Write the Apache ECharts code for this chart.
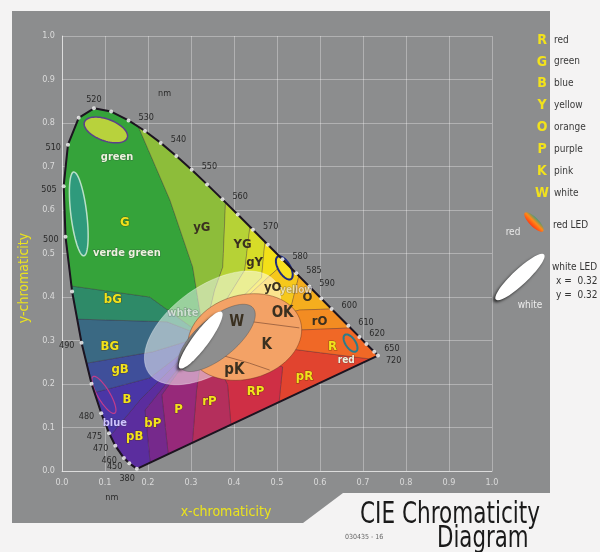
<!DOCTYPE html>
<html>
<head>
<meta charset="utf-8">
<script src="https://cdn.jsdelivr.net/npm/echarts@6/dist/echarts.min.js"></script>
<style>
html,body{margin:0;padding:0;background:#f4f3f3;}
#chart{width:600px;height:552px;}
</style>
</head>
<body>
<div id="chart"></div>
<script>
// spectral locus, CIE 1931 (nm, x, y)
var wavelengths = [380, 450, 460, 470, 475, 480, 485, 490, 495, 500, 505, 510, 515, 520, 525, 530, 535, 540, 545, 550, 555, 560, 565, 570, 575, 580, 585, 590, 595, 600, 610, 620, 630, 650, 720];
var locusX = [0.1741, 0.1566, 0.1440, 0.1241, 0.1096, 0.0913, 0.0687, 0.0454, 0.0235, 0.0082, 0.0039, 0.0139, 0.0389, 0.0743, 0.1142, 0.1547, 0.1929, 0.2296, 0.2658, 0.3016, 0.3373, 0.3731, 0.4087, 0.4441, 0.4788, 0.5125, 0.5448, 0.5752, 0.6029, 0.6270, 0.6658, 0.6915, 0.7079, 0.7260, 0.7347];
var locusY = [0.0050, 0.0177, 0.0297, 0.0578, 0.0868, 0.1327, 0.2007, 0.2950, 0.4127, 0.5384, 0.6548, 0.7502, 0.8120, 0.8338, 0.8262, 0.8059, 0.7816, 0.7543, 0.7243, 0.6923, 0.6589, 0.6245, 0.5896, 0.5547, 0.5202, 0.4866, 0.4544, 0.4242, 0.3965, 0.3725, 0.3340, 0.3083, 0.2920, 0.2740, 0.2653];
var labelWaves = [380, 450, 460, 470, 475, 480, 490, 500, 505, 510, 520, 530, 540, 550, 560, 570, 580, 585, 590, 600, 610, 620, 650, 720];

// colour-name regions (clockwise), each one lies between two boundaries
var regionNames = ['pR', 'RP', 'rP', 'P', 'bP', 'pB', 'B', 'gB', 'BG', 'bG', 'G', 'yG', 'YG', 'gY', 'Y', 'yO', 'O', 'rO', 'R'];
var hub = [0.33, 0.31];
// boundary ends: t = share of the purple line from 380, lam = point of the locus
var boundaries = [
  { t: 0.97, pts: [[0.552, 0.278]] },
  { t: 0.59, pts: [[0.513, 0.239]] },
  { t: 0.39, pts: [[0.385, 0.198]] },
  { t: 0.23, pts: [[0.313, 0.186]] },
  { t: 0.13, pts: [[0.232, 0.175]] },
  { t: 0.055, pts: [[0.193, 0.140]] },
  { lam: 474, pts: [[0.181, 0.163]] },
  { lam: 483.5, pts: [[0.204, 0.214]] },
  { lam: 487.5, pts: [[0.211, 0.274]] },
  { lam: 492.3, pts: [[0.244, 0.343]] },
  { lam: 495.5, pts: [[0.204, 0.400]] },
  { lam: 533, pts: [[0.304, 0.469], [0.251, 0.623]] },
  { lam: 561, pts: [[0.355, 0.416], [0.374, 0.469]] },
  { lam: 569, pts: [[0.425, 0.462]] },
  { lam: 574, pts: [[0.464, 0.444]] },
  { lam: 581, pts: [[0.478, 0.444]] },
  { lam: 586, pts: [[0.534, 0.382]] },
  { lam: 600, pts: [[0.552, 0.370]] },
  { lam: 612, pts: [[0.552, 0.324]] }
];

// ellipses (centre, half axes, angle in degrees)
var ellipseNames = ['outer', 'salmon', 'gray', 'whiteLED', 'green', 'verde', 'blue', 'yellow', 'red'];
var ellipseCX = [0.350, 0.425, 0.360, 0.3225, 0.102, 0.039, 0.0975, 0.517, 0.671];
var ellipseCY = [0.329, 0.308, 0.306, 0.301, 0.784, 0.591, 0.175, 0.467, 0.294];
var ellipseA = [0.181, 0.1346, 0.109, 0.081, 0.053, 0.097, 0.049, 0.030, 0.023];
var ellipseB = [0.097, 0.0966, 0.046, 0.0185, 0.025, 0.0185, 0.014, 0.014, 0.0115];
var ellipseAngle = [35, 15, 39, 53, -20, 97, 121, 121, 125];

// lines inside the pink area
var divOKx = [0.443, 0.552], divOKy = [0.343, 0.329];
var divKx = [0.343, 0.436, 0.483], divKy = [0.274, 0.248, 0.232];

// labels
var labelText = ['G', 'yG', 'YG', 'gY', 'yO', 'O', 'rO', 'R', 'pR', 'RP', 'rP', 'P', 'bP', 'pB', 'B', 'gB', 'BG', 'bG', 'W', 'OK', 'K', 'pK'];
var labelX = [0.146, 0.325, 0.420, 0.448, 0.490, 0.571, 0.599, 0.629, 0.564, 0.450, 0.343, 0.271, 0.211, 0.169, 0.151, 0.135, 0.111, 0.118, 0.406, 0.513, 0.476, 0.401];
var labelY = [0.572, 0.559, 0.520, 0.480, 0.421, 0.398, 0.343, 0.285, 0.216, 0.182, 0.159, 0.140, 0.110, 0.078, 0.163, 0.232, 0.285, 0.393, 0.343, 0.363, 0.290, 0.232];
var noteText = ['green', 'verde green', 'blue', 'white', 'red', 'yellow'];
var noteX = [0.128, 0.151, 0.123, 0.281, 0.661, 0.545];
var noteY = [0.722, 0.501, 0.110, 0.363, 0.255, 0.416];

var legendLetters = ['R', 'G', 'B', 'Y', 'O', 'P', 'K', 'W'];
var legendNames = ['red', 'green', 'blue', 'yellow', 'orange', 'purple', 'pink', 'white'];

var FONT = "'Liberation Sans Narrow', 'DejaVu Sans Condensed', 'Liberation Sans', sans-serif";

var regionColors = {
  pR: '#e1442f', RP: '#cf2f45', rP: '#b42f5c', P: '#97297a', bP: '#76298c', pB: '#5b2d9e',
  B: '#4a36a6', gB: '#3f4f9a', BG: '#3a6983', bG: '#2e8a68', G: '#35a33a', yG: '#8dbd3a',
  YG: '#b6d236', gY: '#d7dc28', Y: '#f3e018', yO: '#f6c81c', O: '#f5ae1e', rO: '#f38c22', R: '#f06826'
};
var ellipseStyles = {
  outer: { fill: 'rgba(255,255,255,0.5)', stroke: 'rgba(255,255,255,0.35)', lineWidth: 1 },
  salmon: { fill: '#f3a266', stroke: 'rgba(90,40,20,0.5)', lineWidth: 0.8 },
  gray: { fill: '#8e8e8e', stroke: 'rgba(60,60,60,0.4)', lineWidth: 0.8 },
  whiteLED: { fill: '#ffffff', shadowBlur: 3, shadowColor: 'rgba(0,0,0,0.7)', shadowOffsetX: -2, shadowOffsetY: 2 },
  green: { fill: '#b8d23c', stroke: '#5b3f8c', lineWidth: 1.5 },
  verde: { fill: '#2f9a7c', stroke: '#b9e0c8', lineWidth: 1.5 },
  blue: { fill: 'rgba(0,0,0,0)', stroke: '#c03c8c', lineWidth: 1.2 },
  yellow: { fill: '#f8e020', stroke: '#1c2a80', lineWidth: 2 },
  red: { fill: 'rgba(0,0,0,0)', stroke: '#2a7c8c', lineWidth: 2 }
};
var darkLabels = ['yG', 'YG', 'gY', 'yO', 'O', 'rO', 'W', 'OK', 'K', 'pK'];

function locusAt(lam) {
  for (var i = 0; i < wavelengths.length - 1; i++) {
    if (lam >= wavelengths[i] && lam <= wavelengths[i + 1]) {
      var f = (lam - wavelengths[i]) / (wavelengths[i + 1] - wavelengths[i]);
      return [locusX[i] + f * (locusX[i + 1] - locusX[i]), locusY[i] + f * (locusY[i + 1] - locusY[i])];
    }
  }
  return [locusX[locusX.length - 1], locusY[locusY.length - 1]];
}
// position round the outline: 0..1 purple line (from 720 end), 1..2 locus (380 -> 720)
function perimPos(b) { return b.t !== undefined ? 1 - b.t : 1 + (b.lam - 380) / 340; }
function perimPoint(p) {
  p = ((p % 2) + 2) % 2;
  if (p <= 1) {
    var t = 1 - p, n = locusX.length - 1;
    return [locusX[0] + t * (locusX[n] - locusX[0]), locusY[0] + t * (locusY[n] - locusY[0])];
  }
  return locusAt(380 + (p - 1) * 340);
}
function arc(pa, pb) {
  if (pb < pa) pb += 2;
  var list = [];
  wavelengths.forEach(function (w, i) {
    var pv = 1 + (w - 380) / 340;
    [pv - 2, pv, pv + 2].forEach(function (k) { if (k > pa && k < pb) list.push([k, i]); });
  });
  list.sort(function (a, b) { return a[0] - b[0]; });
  var out = [perimPoint(pa)];
  list.forEach(function (e) { out.push([locusX[e[1]], locusY[e[1]]]); });
  out.push(perimPoint(pb));
  return out;
}
function regionPolygon(k) {
  var A = boundaries[k], B = boundaries[(k + 1) % boundaries.length];
  return [hub].concat(A.pts, arc(perimPos(A), perimPos(B)), B.pts.slice().reverse());
}
function ellipsePoints(i) {
  var ang = ellipseAngle[i] * Math.PI / 180, pts = [];
  for (var s = 0; s < 72; s++) {
    var th = s / 72 * Math.PI * 2;
    var ca = ellipseA[i] * Math.cos(th), sb = ellipseB[i] * Math.sin(th);
    pts.push([ellipseCX[i] + ca * Math.cos(ang) - sb * Math.sin(ang),
              ellipseCY[i] + ca * Math.sin(ang) + sb * Math.cos(ang)]);
  }
  return pts;
}

function axis() {
  return {
    type: 'value', min: 0, max: 1, interval: 0.1,
    axisLine: { show: true, onZero: false, lineStyle: { color: 'rgba(255,255,255,0.55)', width: 1 } },
    axisTick: { show: false },
    axisLabel: { color: '#dadada', fontSize: 9, fontFamily: FONT, margin: 7,
      formatter: function (v) { return v.toFixed(1); } },
    splitLine: { show: true, lineStyle: { color: 'rgba(255,255,255,0.32)', width: 1 } }
  };
}

var graphics = [
  { type: 'polygon', z: -10, shape: { points: [[12, 11], [550, 11], [550, 493], [343, 493], [303, 523], [12, 523]] },
    style: { fill: '#8c8d8e' } },
  { type: 'text', z: 100, x: 24, y: 278, rotation: Math.PI / 2,
    style: { text: 'y-chromaticity', fill: '#ece41c', fontSize: 14, fontFamily: FONT, align: 'center', verticalAlign: 'middle' } },
  { type: 'text', z: 100, x: 226, y: 512,
    style: { text: 'x-chromaticity', fill: '#ece41c', fontSize: 14, fontFamily: FONT, align: 'center', verticalAlign: 'middle' } },
  { type: 'text', z: 100, x: 360, y: 515, scaleX: 0.8,
    style: { text: 'CIE Chromaticity', fill: '#1a1a1a', fontSize: 30, fontFamily: FONT, align: 'left', verticalAlign: 'middle' } },
  { type: 'text', z: 100, x: 437, y: 539, scaleX: 0.79,
    style: { text: 'Diagram', fill: '#1a1a1a', fontSize: 30, fontFamily: FONT, align: 'left', verticalAlign: 'middle' } },
  { type: 'text', z: 100, x: 345, y: 537,
    style: { text: '030435 - 16', fill: '#666', fontSize: 7, fontFamily: FONT, align: 'left', verticalAlign: 'middle' } },
  // LED keys
  { type: 'ellipse', z: 100, x: 534, y: 222, rotation: Math.PI / 4, shape: { cx: 0, cy: 0, rx: 4.5, ry: 13 },
    style: { fill: { type: 'linear', x: 0, y: 0, x2: 1, y2: 0, colorStops: [
      { offset: 0, color: '#ff3a10' }, { offset: 0.55, color: '#ff8a18' }, { offset: 1, color: '#4a9a7a' }] } } },
  { type: 'text', z: 100, x: 513, y: 232,
    style: { text: 'red', fill: '#e8e8e8', fontSize: 10, fontFamily: FONT, align: 'center', verticalAlign: 'middle' } },
  { type: 'text', z: 100, x: 553, y: 225,
    style: { text: 'red LED', fill: '#333', fontSize: 10, fontFamily: FONT, align: 'left', verticalAlign: 'middle' } },
  { type: 'ellipse', z: 100, x: 520, y: 277, rotation: -Math.PI * 0.26, shape: { cx: 0, cy: 0, rx: 7.5, ry: 33 },
    style: { fill: '#ffffff', shadowBlur: 3, shadowColor: 'rgba(0,0,0,0.7)', shadowOffsetX: -2, shadowOffsetY: 2 } },
  { type: 'text', z: 100, x: 530, y: 305,
    style: { text: 'white', fill: '#eeeeee', fontSize: 10, fontFamily: FONT, align: 'center', verticalAlign: 'middle' } },
  { type: 'text', z: 100, x: 552, y: 267,
    style: { text: 'white LED', fill: '#333', fontSize: 10, fontFamily: FONT, align: 'left', verticalAlign: 'middle' } },
  { type: 'text', z: 100, x: 556, y: 281,
    style: { text: 'x =  0.32', fill: '#333', fontSize: 10, fontFamily: FONT, align: 'left', verticalAlign: 'middle' } },
  { type: 'text', z: 100, x: 556, y: 295,
    style: { text: 'y =  0.32', fill: '#333', fontSize: 10, fontFamily: FONT, align: 'left', verticalAlign: 'middle' } }
];
legendLetters.forEach(function (l, i) {
  graphics.push({ type: 'text', z: 100, x: 542, y: 40 + i * 21.9,
    style: { text: l, fill: '#f2e21c', fontSize: 14, fontWeight: 'bold', fontFamily: FONT, align: 'center', verticalAlign: 'middle' } });
  graphics.push({ type: 'text', z: 100, x: 554, y: 40 + i * 21.9,
    style: { text: legendNames[i], fill: '#3a3a3a', fontSize: 10, fontFamily: FONT, align: 'left', verticalAlign: 'middle' } });
});

var chart = echarts.init(document.getElementById('chart'));
var option = {
  backgroundColor: '#f4f3f3',
  animation: false,
  grid: { left: 62, right: 108, top: 36, bottom: 81 },
  xAxis: axis(),
  yAxis: axis(),
  graphic: graphics,
  series: [
    {
      type: 'custom', coordinateSystem: 'cartesian2d', z: 2, clip: false,
      data: regionNames.map(function (n, i) { return [i, 0]; }),
      renderItem: function (params, api) {
        var k = api.value(0);
        var pts = regionPolygon(k).map(function (p) { return api.coord(p); });
        return { type: 'polygon', shape: { points: pts },
          style: { fill: regionColors[regionNames[k]], stroke: 'rgba(50,20,40,0.35)', lineWidth: 0.7 } };
      }
    },
    {
      type: 'custom', coordinateSystem: 'cartesian2d', z: 3, clip: false,
      data: ellipseNames.map(function (n, i) { return [i, 0]; }),
      renderItem: function (params, api) {
        var i = api.value(0);
        var pts = ellipsePoints(i).map(function (p) { return api.coord(p); });
        var children = [{ type: 'polygon', shape: { points: pts }, style: ellipseStyles[ellipseNames[i]] }];
        if (ellipseNames[i] === 'salmon') {
          children.push({ type: 'polyline', shape: { points: divOKx.map(function (x, j) { return api.coord([x, divOKy[j]]); }) },
            style: { stroke: 'rgba(80,40,30,0.6)', lineWidth: 0.8, fill: null } });
          children.push({ type: 'polyline', shape: { points: divKx.map(function (x, j) { return api.coord([x, divKy[j]]); }) },
            style: { stroke: 'rgba(80,40,30,0.6)', lineWidth: 0.8, fill: null } });
        }
        return { type: 'group', children: children };
      }
    },
    {
      type: 'line', z: 4, symbol: 'none', silent: true,
      data: locusX.map(function (x, i) { return [x, locusY[i]]; }).concat([[locusX[0], locusY[0]]]),
      lineStyle: { color: '#1c1420', width: 2 }
    },
    {
      type: 'scatter', z: 5, symbolSize: 4, silent: true,
      data: locusX.map(function (x, i) { return [x, locusY[i]]; }),
      itemStyle: { color: '#ffffff' }
    },
    {
      type: 'custom', coordinateSystem: 'cartesian2d', z: 6, clip: false,
      data: labelWaves.map(function (w) { return [w, 0]; }),
      renderItem: function (params, api) {
        var w = api.value(0), i = wavelengths.indexOf(w);
        var c = api.coord([locusX[i], locusY[i]]);
        var x = c[0], y = c[1], align = 'left';
        if (w <= 510) { x -= 7; y += 3; align = 'right'; }
        else if (w === 520) { y -= 9; align = 'center'; }
        else if (w === 720) { x += 8; y += 5; }
        else { x += 10; y -= 3; }
        if (w === 380) { x = c[0] - 2; y = c[1] + 10; }
        var children = [{ type: 'text', x: x, y: y,
          style: { text: String(w), fill: '#2a2a2a', fontSize: 9, fontFamily: FONT, align: align, verticalAlign: 'middle' } }];
        if (w === 530 || w === 380) {
          children.push({ type: 'text', x: c[0] + (w === 530 ? 36 : -25), y: c[1] + (w === 530 ? -27 : 29),
            style: { text: 'nm', fill: '#2a2a2a', fontSize: 9, fontFamily: FONT, align: 'center', verticalAlign: 'middle' } });
        }
        return { type: 'group', children: children };
      }
    },
    {
      type: 'custom', coordinateSystem: 'cartesian2d', z: 7, clip: false,
      data: labelText.map(function (t, i) { return [labelX[i], labelY[i], i]; }),
      renderItem: function (params, api) {
        var i = api.value(2), t = labelText[i];
        var c = api.coord([api.value(0), api.value(1)]);
        var dark = darkLabels.indexOf(t) >= 0;
        var big = (t === 'K' || t === 'W' || t === 'OK' || t === 'pK');
        return { type: 'text', x: c[0], y: c[1],
          style: { text: t, fill: dark ? '#3a3020' : '#f2e21c', fontSize: big ? 15 : 13, fontWeight: 'bold', fontFamily: FONT,
            align: 'center', verticalAlign: 'middle',
            stroke: dark ? null : 'rgba(70,50,0,0.55)', lineWidth: dark ? 0 : 1 } };
      }
    },
    {
      type: 'custom', coordinateSystem: 'cartesian2d', z: 7, clip: false,
      data: noteText.map(function (t, i) { return [noteX[i], noteY[i], i]; }),
      renderItem: function (params, api) {
        var i = api.value(2), t = noteText[i];
        var c = api.coord([api.value(0), api.value(1)]);
        var fill = t === 'blue' ? '#cfc4ff' : (t === 'yellow' || t === 'white' ? 'rgba(255,255,255,0.6)' : '#eef2de');
        return { type: 'text', x: c[0], y: c[1],
          style: { text: t, fill: fill, fontSize: t === 'yellow' || t === 'red' ? 10 : 11, fontWeight: 'bold', fontFamily: FONT,
            align: 'center', verticalAlign: 'middle', stroke: 'rgba(40,40,60,0.35)', lineWidth: 1 } };
      }
    }
  ]
};
chart.setOption(option);
</script>
</body>
</html>
